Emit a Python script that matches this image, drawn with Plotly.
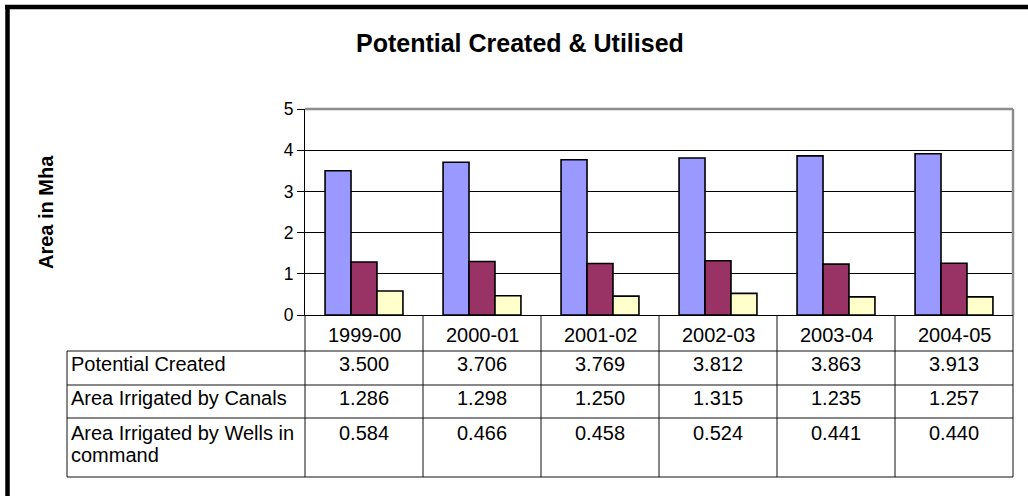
import plotly.graph_objects as go

# ---------------- data ----------------
years = ["1999-00", "2000-01", "2001-02", "2002-03", "2003-04", "2004-05"]
potential_created = [3.500, 3.706, 3.769, 3.812, 3.863, 3.913]
area_canals = [1.286, 1.298, 1.250, 1.315, 1.235, 1.257]
area_wells = [0.584, 0.466, 0.458, 0.524, 0.441, 0.440]
series_names = ["Potential Created", "Area Irrigated by Canals", "Area Irrigated by Wells in\ncommand"]
series_colors = ["#9999FF", "#993366", "#FFFFCC"]
y_tick_values = [0, 1, 2, 3, 4, 5]
title_text = "Potential Created & Utilised"
y_title_text = "Area in Mha"

series_values = [potential_created, area_canals, area_wells]

# ---------------- layout geometry (pixels) ----------------
W, H = 1028, 496
L, R, T, B = 305, 15, 109, 181
PW, PH = W - L - R, H - T - B
FONT = "Arial, 'Liberation Sans', sans-serif"


def px(x):
    return (x - L) / PW


def py(y):
    return (H - B - y) / PH


fig = go.Figure()
for name, vals, col in zip(series_names, series_values, series_colors):
    fig.add_trace(go.Bar(
        x=years, y=vals, name=name.replace("\n", " "),
        marker=dict(color=col, line=dict(color="black", width=1.6)),
        showlegend=False,
    ))

shapes = []
annotations = []

# plot-area border (grey top/right)
shapes.append(dict(type="line", xref="paper", yref="paper", x0=0, x1=1, y0=1, y1=1,
                   line=dict(color="#8c8c8c", width=2.5)))
shapes.append(dict(type="line", xref="paper", yref="paper", x0=1, x1=1, y0=0, y1=1,
                   line=dict(color="#8c8c8c", width=2.5)))

# data table geometry
n = len(years)
col_w = PW / n
header_top, header_bot = 315, 351
row_tops = [351, 385, 418]
table_bottom = 477
label_left = 67
line_style = dict(color="#111111", width=1)

# horizontal lines
for yy in [header_bot] + row_tops[1:] + [table_bottom]:
    shapes.append(dict(type="line", xref="paper", yref="paper",
                       x0=px(label_left), x1=1, y0=py(yy), y1=py(yy), line=line_style))
# vertical lines of value columns
for i in range(n + 1):
    xx = L + i * col_w
    shapes.append(dict(type="line", xref="paper", yref="paper",
                       x0=px(xx), x1=px(xx), y0=py(header_top), y1=py(table_bottom), line=line_style))
# label column left edge
shapes.append(dict(type="line", xref="paper", yref="paper",
                   x0=px(label_left), x1=px(label_left), y0=py(header_bot), y1=py(table_bottom),
                   line=line_style))

# outer chart border (only left/top visible in the frame)
border = dict(color="black", width=4.5)
shapes.append(dict(type="line", xref="paper", yref="paper",
                   x0=px(7.5), x1=px(7.5), y0=py(5), y1=py(H), line=border))
shapes.append(dict(type="line", xref="paper", yref="paper",
                   x0=px(5), x1=px(W), y0=py(7), y1=py(7), line=border))

tfont = dict(family=FONT, size=20, color="black")
# header year labels
for yr in years:
    annotations.append(dict(x=yr, xref="x", y=py(335), yref="paper", text=yr,
                            showarrow=False, xanchor="center", yanchor="middle", font=tfont))
# rows
row_centers = [364, 398, 433]
line_gap = 22
for r, (name, vals) in enumerate(zip(series_names, series_values)):
    for k, part in enumerate(name.split("\n")):
        annotations.append(dict(x=px(label_left + 2), xref="paper", y=py(row_centers[r] + k * line_gap),
                                yref="paper", text=part, showarrow=False, xanchor="left",
                                yanchor="middle", font=tfont))
    for yr, v in zip(years, vals):
        annotations.append(dict(x=yr, xref="x", y=py(row_centers[r]), yref="paper",
                                text=f"{v:.3f}", showarrow=False, xanchor="center",
                                yanchor="middle", font=tfont))

# title and axis title
annotations.append(dict(x=px(520), y=py(43), xref="paper", yref="paper", text=f"<b>{title_text}</b>",
                        showarrow=False, xanchor="center", yanchor="middle",
                        font=dict(family=FONT, size=25, color="black")))
annotations.append(dict(x=px(46), y=py(212), xref="paper", yref="paper", text=f"<b>{y_title_text}</b>",
                        showarrow=False, xanchor="center", yanchor="middle", textangle=-90,
                        font=dict(family=FONT, size=20, color="black")))

fig.update_layout(
    width=W, height=H,
    margin=dict(l=L, r=R, t=T, b=B, pad=0),
    paper_bgcolor="white", plot_bgcolor="white",
    barmode="group", bargap=0.34, bargroupgap=0,
    shapes=shapes, annotations=annotations,
    font=dict(family=FONT, color="black"),
    xaxis=dict(type="category", categoryorder="array", categoryarray=years,
               range=[-0.5, n - 0.5], showticklabels=False, ticks="",
               showline=True, linecolor="black", linewidth=1, showgrid=False, zeroline=False),
    yaxis=dict(range=[0, 5], tickvals=y_tick_values, ticks="outside", ticklen=7,
               tickcolor="black", tickwidth=1, showline=True, linecolor="black", linewidth=1,
               showgrid=True, gridcolor="black", gridwidth=1, zeroline=False,
               tickfont=dict(family=FONT, size=17.5, color="black")),
)

fig.write_html("out.html")
